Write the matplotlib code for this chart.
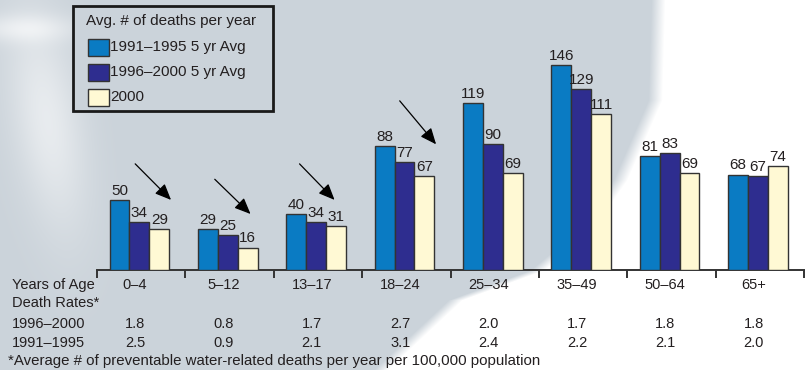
import numpy as np
import matplotlib.pyplot as plt
from matplotlib.patches import Rectangle

plt.rcParams['font.family'] = ['Liberation Sans', 'DejaVu Sans']

# data
age_groups = ['0–4', '5–12', '13–17', '18–24', '25–34', '35–49', '50–64', '65+']
avg_9195 = [50, 29, 40, 88, 119, 146, 81, 68]
avg_9600 = [34, 25, 34, 77, 90, 129, 83, 67]
yr_2000 = [29, 16, 31, 67, 69, 111, 69, 74]
rate_9600 = ['1.8', '0.8', '1.7', '2.7', '2.0', '1.7', '1.8', '1.8']
rate_9195 = ['2.5', '0.9', '2.1', '3.1', '2.4', '2.2', '2.1', '2.0']
series_names = ['1991–1995 5 yr Avg', '1996–2000 5 yr Avg', '2000']
legend_title = 'Avg. # of deaths per year'
footnote = '*Average # of preventable water-related deaths per year per 100,000 population'

# trend arrows: (group, start offset, tip offset, start y, tip y)
arrows = [(0, 0.41, 0.86, 77, 48.5),
          (1, 0.31, 0.76, 66, 38.5),
          (2, 0.27, 0.71, 77, 48.5),
          (3, 0.405, 0.857, 122, 88)]

colors = ['#0a7bc3', '#2e2d8f', '#fff9d4']
TXT = '#231f20'
BG = np.array([203, 211, 218]) / 255.0

W, H = 809, 370
fig = plt.figure(figsize=(W / 100, H / 100), dpi=100)

# background: gray with white sweep on the right and a light wisp at left
bg_ax = fig.add_axes([0, 0, 1, 1], zorder=-10)
yy, xx = np.mgrid[0:H, 0:W]
edge = np.interp(yy, [0, 100, 180, 230, 270, 300, 370], [658, 655, 620, 585, 537, 455, 380])
white = np.clip((xx - edge) / 14 + 0.5, 0, 1)
wisp = 0.55 * np.exp(-(((xx - 35 - (yy - 40) * 0.15) / 35) ** 2) - ((yy - 120) / 110) ** 2)
wisp += 0.45 * np.exp(-((xx - 20) / 60) ** 2 - ((yy - 28) / 14) ** 2)
mix = np.clip(white + wisp, 0, 1)[..., None]
img = BG * (1 - mix) + mix
bg_ax.imshow(img, extent=[0, W, H, 0], aspect='auto')
bg_ax.set_xlim(0, W)
bg_ax.set_ylim(H, 0)
bg_ax.axis('off')

# main axes
ax = fig.add_axes([97 / W, (H - 270) / H, 707 / W, 270 / H])
ax.set_facecolor('none')
n = len(age_groups)
x = np.arange(n) + 0.5
bw = 0.225
for k, vals in enumerate([avg_9195, avg_9600, yr_2000]):
    pos = x + (k - 1) * bw - 0.02
    bars = ax.bar(pos, vals, bw, color=colors[k], edgecolor='#333333', linewidth=1.0, zorder=3)
    for b, v in zip(bars, vals):
        ax.text(b.get_x() + b.get_width() / 2, v + 1.5, str(v), ha='center', va='bottom',
                fontsize=11, color=TXT, zorder=4)

ax.set_xlim(0, n)
ax.set_ylim(0, 192.3)
for s in ['top', 'right', 'left']:
    ax.spines[s].set_visible(False)
ax.spines['bottom'].set_color('#333333')
ax.spines['bottom'].set_linewidth(1.4)
ax.set_yticks([])
ax.set_xticks(np.arange(n + 1))
ax.set_xticklabels([])
ax.tick_params(axis='x', direction='out', length=6, width=1.4, color='#333333')

for g, s0, s1, y0, y1 in arrows:
    ax.annotate('', xy=(g + s1, y1), xytext=(g + s0, y0),
                arrowprops=dict(arrowstyle='-|>,head_length=0.7,head_width=0.3',
                                color='black', lw=0.9, mutation_scale=14),
                zorder=5)

# table below chart
tr = ax.get_xaxis_transform()
rows_y = [285, 303, 324, 343]
fs = 10.5
def fy(py):
    return 1 - py / H
for lab, py in zip(['Years of Age', 'Death Rates*', '1996–2000', '1991–1995'], rows_y):
    fig.text(12 / W, fy(py), lab, fontsize=fs, color=TXT, va='center')
for i in range(n):
    cx = x[i] - 0.07
    for txt, py in [(age_groups[i], rows_y[0]), (rate_9600[i], rows_y[2]), (rate_9195[i], rows_y[3])]:
        ax.text(cx, (270 - py) / 270, txt, transform=tr, ha='center', va='center',
                fontsize=fs, color=TXT, clip_on=False)
fig.text(8 / W, fy(361), footnote, fontsize=10.8, color=TXT, va='center')

# legend box drawn by hand (pixel layout of the original)
def px(xp, yp):
    return xp / W, 1 - yp / H
fig.patches.append(Rectangle(px(73, 111), 200 / W, 105 / H, transform=fig.transFigure,
                             facecolor=BG, edgecolor='#1a1a1a', linewidth=2.0, zorder=5))
fig.text(*px(86, 21), legend_title, fontsize=11, color=TXT, va='center', zorder=6)
for k, (c, name) in enumerate(zip(colors, series_names)):
    cy = 47 + 25 * k
    fig.patches.append(Rectangle(px(88, cy + 8.5), 21 / W, 17 / H, transform=fig.transFigure,
                                 facecolor=c, edgecolor='#333333', linewidth=1.0, zorder=6))
    fig.text(*px(110.5, cy), name, fontsize=11, color=TXT, va='center', zorder=6)

fig.savefig('out.png', dpi=100)
